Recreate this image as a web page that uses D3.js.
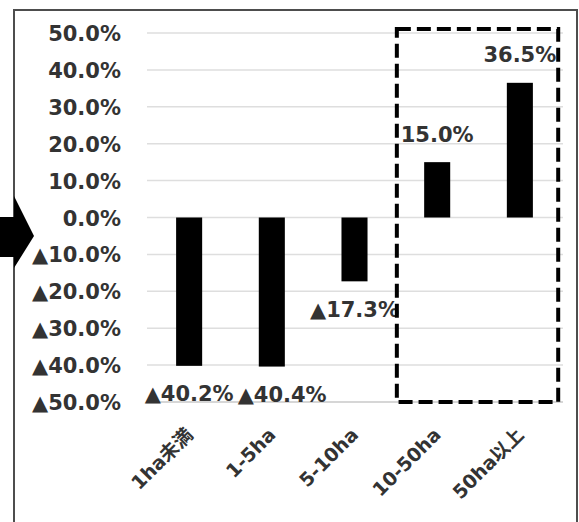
<!DOCTYPE html>
<html>
<head>
<meta charset="utf-8">
<script src="https://cdn.jsdelivr.net/npm/d3@7"></script>
<style>
  html, body { margin: 0; padding: 0; background: #fff; }
  svg { display: block; }
  text { font-family: "DejaVu Sans", "Noto Sans CJK JP", sans-serif; font-weight: bold; fill: #333; }
</style>
</head>
<body>
<svg id="chart" width="579" height="522"></svg>
<script>
// Change rate by farm size class
const categories = ["1ha未満", "1-5ha", "5-10ha", "10-50ha", "50ha以上"];
const changeRate = [-0.402, -0.404, -0.173, 0.150, 0.365];
const yTicks = [0.5, 0.4, 0.3, 0.2, 0.1, 0, -0.1, -0.2, -0.3, -0.4, -0.5];
// size classes enclosed by the dashed highlight box
const highlighted = ["10-50ha", "50ha以上"];

// negative values are written with a leading ▲ instead of a minus sign
const fmtPct = v => (v < 0 ? "▲" : "") + (Math.abs(v) * 100).toFixed(1) + "%";

const svg = d3.select("#chart");

// outer frame
svg.append("rect")
  .attr("x", 14).attr("y", 10).attr("width", 563).attr("height", 530)
  .attr("fill", "#fff").attr("stroke", "#4d4d4d").attr("stroke-width", 2);

const x = d3.scaleBand().domain(categories).range([148, 561]).paddingInner(0.685).paddingOuter(0.34);
const y = d3.scaleLinear().domain([-0.5, 0.5]).range([402, 33]);

// gridlines
svg.append("g").selectAll("line").data(yTicks).join("line")
  .attr("x1", 147).attr("x2", 563)
  .attr("y1", d => y(d)).attr("y2", d => y(d))
  .attr("stroke", d => d === -0.5 ? "#c8c8c8" : "#dedede")
  .attr("stroke-width", 1.5);

// y axis labels
const yAxis = d3.axisLeft(y).tickValues(yTicks).tickFormat(fmtPct).tickSize(0).tickPadding(0);
const yg = svg.append("g").attr("transform", "translate(121,0)").call(yAxis);
yg.select(".domain").remove();
yg.selectAll("text")
  .attr("font-size", 21).attr("font-family", null).attr("fill", "#333")
  .attr("dy", "0.36em");

// bars
svg.append("g").selectAll("rect").data(changeRate).join("rect")
  .attr("x", (d, i) => x(categories[i]))
  .attr("width", x.bandwidth())
  .attr("y", d => y(Math.max(0, d)))
  .attr("height", d => Math.abs(y(d) - y(0)))
  .attr("fill", "#000");

// value labels, nudged sideways when they would collide with the previous one
const labels = svg.append("g").selectAll("text").data(changeRate).join("text")
  .attr("text-anchor", "middle")
  .attr("font-size", 21)
  .attr("x", (d, i) => x(categories[i]) + x.bandwidth() / 2)
  .attr("y", d => y(d) + (d < 0 ? 28 : -28))
  .attr("dy", "0.36em")
  .text(fmtPct);
let prevRight = -Infinity, prevY = null;
labels.each(function (d) {
  const t = d3.select(this);
  const w = this.getComputedTextLength();
  let cx = +t.attr("x");
  const cy = +t.attr("y");
  if (prevY !== null && Math.abs(cy - prevY) < 20 && cx - w / 2 < prevRight + 4) {
    cx = prevRight + 4 + w / 2;
    t.attr("x", cx);
  }
  prevRight = cx + w / 2;
  prevY = cy;
});

// category labels
const xAxis = d3.axisBottom(x).tickSize(0).tickPadding(0);
const xg = svg.append("g").attr("transform", "translate(0,402)").call(xAxis);
xg.select(".domain").remove();
xg.selectAll("text")
  .attr("font-size", 19).attr("font-family", null).attr("fill", "#333")
  .attr("text-anchor", "end")
  .attr("y", 0).attr("dy", 0)
  .attr("transform", "translate(5,34) rotate(-45)");

// dashed highlight box around the large size classes
const hx0 = x(highlighted[0]) - (x.step() - x.bandwidth()) / 2 + 1;
const hx1 = x(highlighted[highlighted.length - 1]) + x.bandwidth() + (x.step() - x.bandwidth()) / 2 - 3;
svg.append("rect")
  .attr("x", hx0).attr("y", 29)
  .attr("width", hx1 - hx0).attr("height", 402 - 29)
  .attr("fill", "none").attr("stroke", "#000")
  .attr("stroke-width", 4).attr("stroke-dasharray", "14 6");

// pointer arrow at the zero line
svg.append("path")
  .attr("d", "M0,217 L14,217 L14,196 L34,236 L14,268 L14,257 L0,257 Z")
  .attr("fill", "#000");
</script>
</body>
</html>
